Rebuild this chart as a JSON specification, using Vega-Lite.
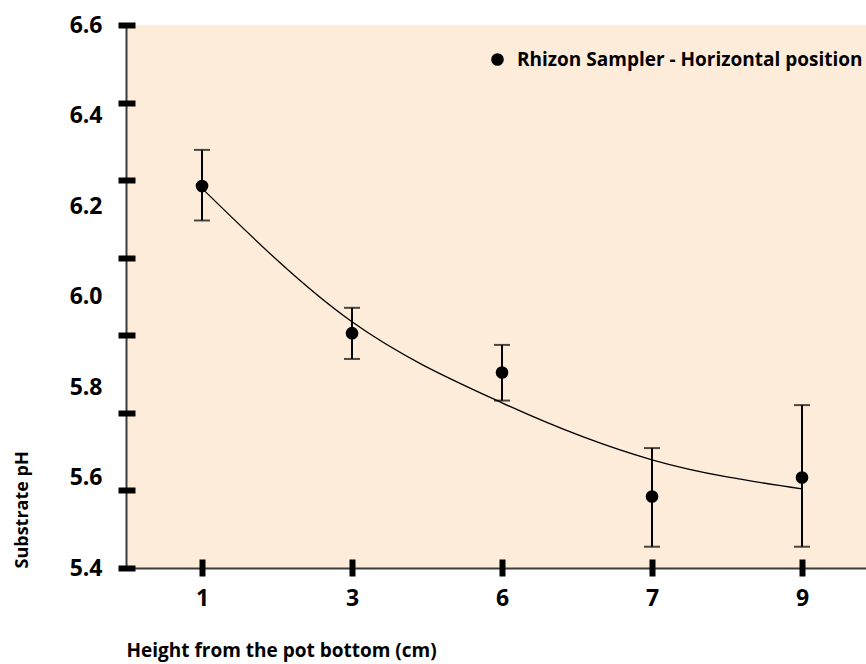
{
  "$schema": "https://vega.github.io/schema/vega-lite/v6.json",
  "width": 740,
  "height": 543,
  "autosize": {"type": "none"},
  "padding": {"left": 126, "top": 25, "right": 0, "bottom": 96},
  "background": "white",
  "config": {"view": {"fill": "#FDECDA", "stroke": null}, "font": "Open Sans"},
  "data": {
    "values": [
      {"h": 1, "ph": 6.244, "lo": 6.168, "hi": 6.324, "fit": 6.239},
      {"h": 3, "ph": 5.919, "lo": 5.862, "hi": 5.975, "fit": 5.944},
      {"h": 6, "ph": 5.832, "lo": 5.770, "hi": 5.893, "fit": 5.765},
      {"h": 7, "ph": 5.558, "lo": 5.447, "hi": 5.665, "fit": 5.639},
      {"h": 9, "ph": 5.600, "lo": 5.447, "hi": 5.760, "fit": 5.575}
    ]
  },
  "layer": [
    {
      "mark": {"type": "rule", "color": "black", "strokeWidth": 2},
      "encoding": {
        "x": {"field": "h", "type": "ordinal", "scale": {"type": "point", "padding": 0.4667, "align": 0.543},
          "axis": {"orient": "bottom", "title": "Height from the pot bottom (cm)", "ticks": false, "tickSize": 0, "labelPadding": 19,
            "labelFont": "Open Sans", "labelFontSize": 23, "labelFontWeight": "bold", "labelColor": "black", "labelAngle": 0,
            "domainColor": "#3c3c3c", "domainWidth": 2, "grid": false,
            "titleFont": "Open Sans", "titleFontSize": 19, "titleFontWeight": "bold", "titleColor": "black", "titleAnchor": "start", "titlePadding": 31}},
        "y": {"field": "lo", "type": "quantitative", "scale": {"domain": [5.4, 6.6], "nice": false, "zero": false},
          "axis": {"orient": "left", "values": [5.4, 5.6, 5.8, 6.0, 6.2, 6.4, 6.6], "format": ".1f", "title": "Substrate pH",
            "ticks": false, "tickSize": 0, "labelPadding": 24, "labelOverlap": false, "labelFlush": false,
            "labelFont": "Open Sans", "labelFontSize": 23, "labelFontWeight": "bold", "labelColor": "black",
            "domainColor": "#3c3c3c", "domainWidth": 2, "grid": false,
            "titleFont": "Open Sans", "titleFontSize": 18, "titleFontWeight": "bold", "titleColor": "black", "titleAnchor": "start", "titlePadding": 38}},
        "y2": {"field": "hi"}
      }
    },
    {
      "mark": {"type": "tick", "color": "black", "size": 16, "thickness": 2},
      "encoding": {
        "x": {"field": "h", "type": "ordinal", "scale": {"type": "point", "padding": 0.4667, "align": 0.543},
          "axis": {"orient": "bottom", "title": null, "labels": false, "domain": false, "tickSize": 17, "tickWidth": 6, "tickColor": "black", "offset": -9, "grid": false}},
        "y": {"field": "hi", "type": "quantitative", "scale": {"domain": [5.4, 6.6], "nice": false, "zero": false},
          "axis": {"orient": "left", "values": [5.4, 5.5714, 5.7429, 5.9143, 6.0857, 6.2571, 6.4286, 6.6], "title": null, "labels": false, "domain": false, "tickSize": 17, "tickWidth": 6, "tickColor": "black", "offset": -9, "grid": false}}
      }
    },
    {
      "mark": {"type": "tick", "color": "black", "size": 16, "thickness": 2},
      "encoding": {
        "x": {"field": "h", "type": "ordinal", "axis": null},
        "y": {"field": "lo", "type": "quantitative", "axis": null}
      }
    },
    {
      "mark": {"type": "line", "color": "black", "strokeWidth": 1.3, "interpolate": "monotone"},
      "encoding": {
        "x": {"field": "h", "type": "ordinal", "axis": null},
        "y": {"field": "fit", "type": "quantitative", "axis": null}
      }
    },
    {
      "mark": {"type": "circle", "size": 160, "opacity": 1},
      "encoding": {
        "x": {"field": "h", "type": "ordinal", "axis": null},
        "y": {"field": "ph", "type": "quantitative", "axis": null},
        "color": {"datum": "Rhizon Sampler - Horizontal position", "scale": {"range": ["black"]},
          "legend": {"title": null, "orient": "none", "legendX": 362, "legendY": 25, "padding": 0,
            "symbolType": "circle", "symbolSize": 160, "symbolStrokeWidth": 0, "symbolOpacity": 1, "symbolFillColor": "black",
            "labelFont": "Open Sans", "labelFontSize": 19, "labelFontWeight": "bold", "labelColor": "black", "labelOffset": 10, "labelLimit": 1000}}
      }
    }
  ],
  "resolve": {"axis": {"x": "independent", "y": "independent"}}
}
